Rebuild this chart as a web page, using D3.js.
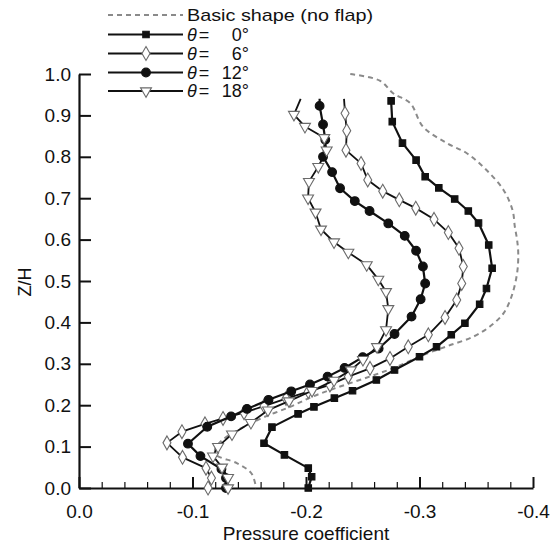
<!DOCTYPE html>
<html><head><meta charset="utf-8">
<script src="https://cdn.jsdelivr.net/npm/d3@7"></script>
<style>
body{margin:0;background:#fff;}
svg text{font-family:"Liberation Sans",Arial,Helvetica,sans-serif;fill:#111;}
</style></head>
<body><svg id="c" width="560" height="547"></svg>
<script>
// ---- data (pressure coefficient vs Z/H) ----
const xTicks = [0, -0.1, -0.2, -0.3, -0.4];
const yTicks = [0, 0.1, 0.2, 0.3, 0.4, 0.5, 0.6, 0.7, 0.8, 0.9, 1.0];

const basicZ  = [1.0,0.984,0.953,0.929,0.873,0.833,0.808,0.768,0.72,0.671,0.631,0.599,0.567,0.519,0.462,0.422,0.39,0.365,0.343,0.321,0.293,0.269,0.245,0.221,0.196,0.17,0.14,0.115,0.095,0.08,0.06,0.035,0.0];
const basicCp = [-0.239,-0.265,-0.277,-0.292,-0.303,-0.324,-0.342,-0.359,-0.374,-0.382,-0.384,-0.386,-0.387,-0.386,-0.381,-0.374,-0.362,-0.347,-0.325,-0.303,-0.280,-0.256,-0.230,-0.206,-0.186,-0.162,-0.140,-0.126,-0.120,-0.121,-0.139,-0.152,-0.156];

const t0Z  = [0.935,0.885,0.833,0.792,0.752,0.725,0.698,0.669,0.640,0.587,0.531,0.482,0.444,0.398,0.370,0.341,0.317,0.285,0.261,0.235,0.217,0.196,0.179,0.147,0.108,0.080,0.048,0.027,0.0];
const t0Cp = [-0.275,-0.276,-0.285,-0.297,-0.305,-0.317,-0.331,-0.343,-0.352,-0.361,-0.364,-0.359,-0.353,-0.340,-0.328,-0.315,-0.300,-0.278,-0.262,-0.241,-0.225,-0.207,-0.193,-0.170,-0.163,-0.181,-0.202,-0.205,-0.202];

const t6Z  = [0.94,0.905,0.863,0.816,0.784,0.744,0.717,0.696,0.676,0.649,0.617,0.579,0.535,0.494,0.454,0.412,0.370,0.341,0.313,0.289,0.269,0.249,0.233,0.216,0.198,0.182,0.168,0.155,0.136,0.109,0.074,0.048,0.024,0.0];
const t6Cp = [-0.2335,-0.2344,-0.2359,-0.2352,-0.2485,-0.2544,-0.2676,-0.2822,-0.2967,-0.3128,-0.3254,-0.3348,-0.3386,-0.3372,-0.3328,-0.3225,-0.3078,-0.2901,-0.2740,-0.2564,-0.2373,-0.2211,-0.2020,-0.1824,-0.1630,-0.1454,-0.1269,-0.1110,-0.0907,-0.0775,-0.0912,-0.1119,-0.1167,-0.1137];

const t12Z  = [0.94,0.923,0.878,0.841,0.800,0.763,0.724,0.693,0.669,0.639,0.609,0.573,0.535,0.494,0.456,0.414,0.372,0.337,0.316,0.290,0.269,0.250,0.2335,0.213,0.191,0.173,0.148,0.107,0.077,0.046,0.024,0.0];
const t12Cp = [-0.212,-0.212,-0.215,-0.217,-0.215,-0.223,-0.230,-0.243,-0.256,-0.2725,-0.287,-0.297,-0.303,-0.305,-0.301,-0.293,-0.278,-0.264,-0.250,-0.234,-0.219,-0.2035,-0.187,-0.167,-0.148,-0.134,-0.113,-0.096,-0.107,-0.1255,-0.1295,-0.1295];

const t18Z  = [0.94,0.902,0.873,0.846,0.816,0.776,0.74,0.70,0.666,0.625,0.594,0.569,0.539,0.504,0.474,0.433,0.382,0.341,0.31,0.285,0.26,0.235,0.21,0.188,0.158,0.13,0.10,0.077,0.05,0.025,0.0];
const t18Cp = [-0.1953,-0.1894,-0.1991,-0.2161,-0.2182,-0.2108,-0.2026,-0.2018,-0.2084,-0.2132,-0.2247,-0.2373,-0.2535,-0.2637,-0.2705,-0.2725,-0.2705,-0.2626,-0.2502,-0.2396,-0.2247,-0.2053,-0.1850,-0.1665,-0.1515,-0.1348,-0.1225,-0.1181,-0.1260,-0.1313,-0.1313];

const seriesNames = ["Basic shape (no flap)", "0°", "6°", "12°", "18°"];

// ---- layout ----
const svg = d3.select("#c");
const x = d3.scaleLinear().domain([0, -0.4]).range([79, 533]);
const y = d3.scaleLinear().domain([0, 1]).range([488, 74]);
const FS = 19;
const LFS = 17;

// axes
const minor = d3.range(0, 21).map(i => -i * 0.02).filter(v => Math.abs((v * 10) - Math.round(v * 10)) > 1e-6);
svg.append("g").attr("transform", "translate(0,488)")
  .call(d3.axisBottom(x).tickValues(minor).tickSizeInner(-6).tickSizeOuter(0).tickFormat(""))
  .call(g => { g.select(".domain").remove(); g.selectAll("line").attr("stroke", "#111").attr("stroke-width", 1.2); });
svg.append("g").attr("transform", "translate(0,488)")
  .call(d3.axisBottom(x).tickValues(xTicks).tickSizeInner(-11).tickSizeOuter(0).tickPadding(17)
        .tickFormat(d => d === 0 ? "0.0" : d.toFixed(1)))
  .call(g => {
    g.select(".domain").attr("stroke", "#111").attr("stroke-width", 2.2);
    g.selectAll("line").attr("stroke", "#111").attr("stroke-width", 2);
    g.selectAll("text").attr("font-size", FS).attr("fill", "#111").attr("font-family", null);
  });
svg.append("g").attr("transform", "translate(79,0)")
  .call(d3.axisLeft(y).tickValues(yTicks).tickSizeInner(-12).tickSizeOuter(0).tickPadding(8)
        .tickFormat(d => d.toFixed(1)))
  .call(g => {
    g.select(".domain").attr("stroke", "#111").attr("stroke-width", 2.2);
    g.selectAll("line").attr("stroke", "#111").attr("stroke-width", 2);
    g.selectAll("text").attr("font-size", FS).attr("fill", "#111").attr("font-family", null);
  });

svg.append("text").attr("x", 306).attr("y", 540).attr("text-anchor", "middle")
  .attr("font-size", FS).text("Pressure coefficient");
svg.append("text").attr("transform", "translate(31,282) rotate(-90)").attr("text-anchor", "middle")
  .attr("font-size", 18).text("Z/H");

// ---- series ----
const mk = (zs, cps) => zs.map((z, i) => ({ z, cp: cps[i] }));
const line = d3.line().x(d => x(d.cp)).y(d => y(d.z));
const smooth = d3.line().x(d => x(d.cp)).y(d => y(d.z)).curve(d3.curveCatmullRom.alpha(0.5));

const symSquare = d3.symbol().type(d3.symbolSquare).size(42);
const symCircle = d3.symbol().type(d3.symbolCircle).size(60);
const symDiamond = d3.symbol().type(d3.symbolDiamond).size(55);
const symTri = d3.symbol().type(d3.symbolTriangle).size(52);

const series = [
  { data: mk(basicZ, basicCp), dashed: true },
  { data: mk(t0Z, t0Cp), sym: symSquare, fill: "#111", stroke: "#111", from: 0, rot: 0, lw: 2.2 },
  { data: mk(t6Z, t6Cp), sym: symDiamond, fill: "#fff", stroke: "#6a6a6a", from: 1, rot: 0, lw: 1.8 },
  { data: mk(t12Z, t12Cp), sym: symCircle, fill: "#111", stroke: "#111", from: 1, rot: 0, lw: 2.2 },
  { data: mk(t18Z, t18Cp), sym: symTri, fill: "#fff", stroke: "#6a6a6a", from: 1, rot: 180, lw: 1.8 }
];

series.forEach(s => {
  if (s.dashed) {
    svg.append("path").attr("d", smooth(s.data)).attr("fill", "none")
      .attr("stroke", "#8a8a8a").attr("stroke-width", 2).attr("stroke-dasharray", "5,4");
    return;
  }
  svg.append("path").attr("d", line(s.data)).attr("fill", "none")
    .attr("stroke", "#111").attr("stroke-width", s.lw).attr("stroke-linejoin", "round");
  svg.append("g").selectAll("path").data(s.data.slice(s.from)).join("path")
    .attr("d", s.sym())
    .attr("transform", d => `translate(${x(d.cp)},${y(d.z)}) rotate(${s.rot})`)
    .attr("fill", s.fill).attr("stroke", s.stroke).attr("stroke-width", 1.1);
});

// ---- legend ----
const lg = svg.append("g");
const rowY = [15, 34.5, 53.5, 72.5, 91];
series.forEach((s, i) => {
  const yy = rowY[i];
  const ln = lg.append("line").attr("x1", 108).attr("x2", 183).attr("y1", yy).attr("y2", yy);
  if (s.dashed) {
    ln.attr("stroke", "#8a8a8a").attr("stroke-width", 2).attr("stroke-dasharray", "5,4");
    lg.append("text").attr("x", 187).attr("y", yy + 6).attr("font-size", LFS)
      .attr("textLength", 186).attr("lengthAdjust", "spacingAndGlyphs").text(seriesNames[i]);
  } else {
    ln.attr("stroke", "#111").attr("stroke-width", s.lw);
    lg.append("path").attr("d", s.sym()).attr("transform", `translate(146,${yy}) rotate(${s.rot})`)
      .attr("fill", s.fill).attr("stroke", s.stroke).attr("stroke-width", 1.1);
    const t = lg.append("text").attr("x", 187).attr("y", yy + 6).attr("font-size", LFS + 1);
    t.append("tspan").attr("font-style", "italic").text("θ");
    t.append("tspan").attr("dx", 2).text("=");
    t.append("tspan").attr("x", 249).attr("text-anchor", "end").text(seriesNames[i]);
  }
});
</script></body></html>
